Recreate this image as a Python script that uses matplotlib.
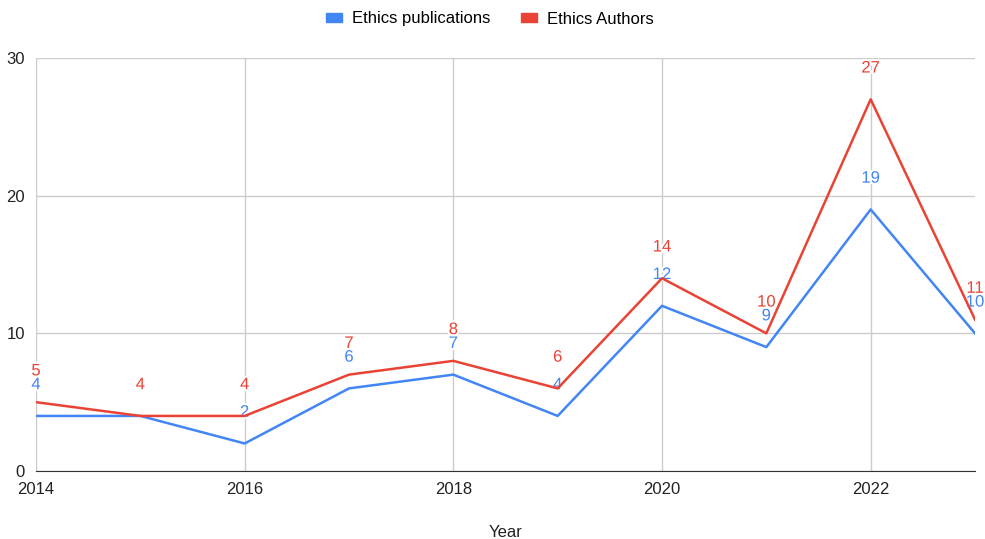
import matplotlib.pyplot as plt
import matplotlib.patheffects as pe
from matplotlib.patches import Patch

# 数据
years = [2014, 2015, 2016, 2017, 2018, 2019, 2020, 2021, 2022, 2023]
publications = [4, 4, 2, 6, 7, 4, 12, 9, 19, 10]
authors = [5, 4, 4, 7, 8, 6, 14, 10, 27, 11]

blue = '#4285F4'
red = '#EA4335'

plt.rcParams['font.family'] = ['Liberation Sans', 'DejaVu Sans']

fig = plt.figure(figsize=(9.85, 5.39), dpi=100)
ax = fig.add_axes([36 / 985, 68 / 539, 939 / 985, 413 / 539])

ax.plot(years, publications, color=blue, lw=1.8, zorder=3)
ax.plot(years, authors, color=red, lw=1.8, zorder=3)

# 数据标签，带白色描边
halo = [pe.withStroke(linewidth=3, foreground='white')]
for x, y in zip(years, publications):
    ax.annotate(str(y), (x, y), xytext=(0, 22.5), textcoords='offset points',
                ha='center', va='center', color=blue, fontsize=12,
                path_effects=halo, zorder=2)
for x, y in zip(years, authors):
    ax.annotate(str(y), (x, y), xytext=(0, 22.5), textcoords='offset points',
                ha='center', va='center', color=red, fontsize=12,
                path_effects=halo, zorder=4)

ax.set_xlim(2014, 2023)
ax.set_ylim(0, 30)
ax.set_xticks([2014, 2016, 2018, 2020, 2022])
ax.set_yticks([0, 10, 20, 30])
ax.grid(True, color='#cccccc', lw=1)
ax.set_axisbelow(True)
for s in ['left', 'right', 'top']:
    ax.spines[s].set_visible(False)
ax.spines['bottom'].set_color('#333333')
ax.tick_params(length=0, labelsize=12, colors='#222222')
ax.tick_params(axis='y', pad=8)
ax.tick_params(axis='x', pad=8)
ax.set_xlabel('Year', fontsize=12, color='#222222', labelpad=20)

handles = [Patch(color=blue, label='Ethics publications'),
           Patch(color=red, label='Ethics Authors')]
fig.legend(handles=handles, loc='center', bbox_to_anchor=(490 / 985, 1 - 19 / 539),
           ncol=2, frameon=False, fontsize=12, handlelength=1.0, handleheight=0.4,
           columnspacing=1.8, handletextpad=0.6)

fig.savefig('out.png', dpi=100)
